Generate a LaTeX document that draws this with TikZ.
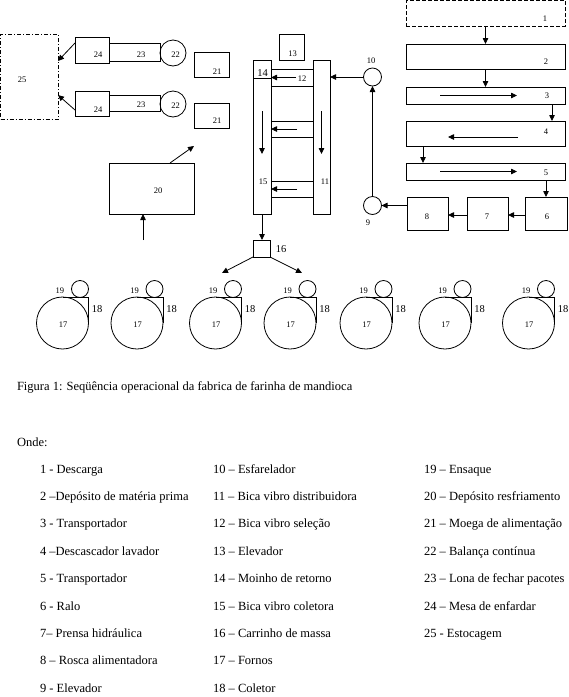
\documentclass[tikz,border=0pt]{standalone}
\usepackage{fontspec}
\setmainfont{Liberation Serif}
\usetikzlibrary{arrows.meta,calc}
\begin{document}
\begin{tikzpicture}[x=1pt,y=-1pt,
  every node/.style={inner sep=0pt, outer sep=0pt},
  box/.style={draw, line width=0.8pt, inner sep=0pt, outer sep=0pt},
  circ/.style={draw, circle, line width=0.8pt, inner sep=0pt, outer sep=0pt},
  arr/.style={line width=0.8pt, -{Triangle[length=6pt,width=5.5pt]}},
  ln/.style={line width=0.8pt},
  lbl/.style={font=\fontsize{8.5}{9}\selectfont},
  blbl/.style={font=\fontsize{10.5}{12}\selectfont},
  txt/.style={font=\fontsize{12.5}{14}\selectfont, anchor=base west}]
\useasboundingbox (0,0) rectangle (569,697);

% right chain
\node[box, dash pattern=on 4pt off 2pt, minimum width=159pt, minimum height=25.5pt] (b1) at (485.5,13.25) {};
\node[box, minimum width=159pt, minimum height=25pt] (b2) at (485.5,56.5) {};
\node[box, minimum width=159pt, minimum height=17pt] (b3) at (485.5,95.5) {};
\node[box, minimum width=159pt, minimum height=25pt] (b4) at (485.5,133.5) {};
\node[box, minimum width=159pt, minimum height=17pt] (b5) at (485.5,171.5) {};
\node[box, minimum width=42pt, minimum height=33pt] (b6) at (546,213.5) {};
\node[box, minimum width=41pt, minimum height=33pt] (b7) at (487.5,213.5) {};
\node[box, minimum width=41pt, minimum height=33pt] (b8) at (427.5,213.5) {};
\node[circ, minimum size=18pt] (c9) at (372.5,205.5) {};
\node[circ, minimum size=18pt] (c10) at (372.5,77) {};

\node[lbl] (t1) at (545,18.5) {1};
\node[lbl] (t2) at (546,62) {2};
\node[lbl] (t3) at (547,96) {3};
\node[lbl] (t4) at (546,132) {4};
\node[lbl] (t5) at (546,173) {5};
\node[lbl] (t6) at (547,217) {6};
\node[lbl] (t7) at (487,217) {7};
\node[lbl] (t8) at (427,217) {8};
\node[lbl] (t9) at (368,223) {9};
\node[lbl] (t10) at (371,61) {10};

\draw[arr] (b1.south) -- (b2.north);
\draw[arr] (b2.south) -- (b3.north);
\draw[arr] ([xshift=-13pt]b3.south east) -- ([xshift=-13pt]b3.south east |- b4.north);
\draw[arr] ([xshift=17pt]b4.south west) -- ([xshift=17pt]b4.south west |- b5.north);
\draw[arr] (b5.south -| b6.north) -- (b6.north);
\draw[arr] ([xshift=34pt]b3.west) -- ([xshift=111pt]b3.west);
\draw[arr] ([xshift=112pt,yshift=-3.5pt]b4.west) -- ([xshift=42pt,yshift=-3.5pt]b4.west);
\draw[arr] ([xshift=34pt]b5.west) -- ([xshift=111pt]b5.west);
\draw[arr] ([yshift=-1.5pt]b6.west) -- ([yshift=-1.5pt]b7.east);
\draw[arr] ([yshift=-1.5pt]b7.west) -- ([yshift=-1.5pt]b8.east);
\draw[arr] (b8.west |- c9.east) -- (c9.east);
\draw[arr] (c9.north) -- (c10.south);

% middle columns
\node[box, minimum width=18pt, minimum height=154pt] (col14) at (262,137) {};
\node[box, minimum width=17pt, minimum height=154pt] (col11) at (321.5,137) {};
\node[box, minimum width=42pt, minimum height=17pt] (ch1) at (292,77.5) {};
\node[box, minimum width=42pt, minimum height=16pt] (ch2) at (292,129) {};
\node[box, minimum width=42pt, minimum height=16pt] (ch3) at (292,189) {};
\node[box, minimum width=25pt, minimum height=26pt] (b13) at (291.5,47) {};
\coordinate (m14) at (262,78);
\draw[ln] (col14.west |- m14) -- (col14.east |- m14);
\draw[arr] (c10.west) -- (c10.west -| col11.east);
\draw[arr] ([xshift=4pt]ch1.center) -- (ch1.west);
\draw[arr] ([xshift=5pt]ch2.center) -- (ch2.west);
\draw[arr] ([xshift=5pt]ch3.center) -- (ch3.west);
\draw[arr] ([yshift=26pt]col14.center) -- ([yshift=-17pt]col14.center);
\draw[arr] ([yshift=26pt]col11.center) -- ([yshift=-17pt]col11.center);
\node[fill=white, inner sep=0.3pt, lbl] (t12) at (302,78.5) {12};
\node[lbl] (t13) at (292.5,53.5) {13};
\node[blbl] (t14) at (262.5,73) {14};
\node[lbl] (t15) at (263,182) {15};
\node[lbl] (t11) at (325,182) {11};

% carrinho 16
\node[box, minimum size=17pt] (b16) at (261.5,248.5) {};
\node[blbl] (t16) at (281,249) {16};
\draw[arr] (col14.south) -- (col14.south |- b16.north);
\coordinate (a16l) at (222,273);
\coordinate (a16r) at (302,273);
\draw[arr] (b16.south west) -- (a16l);
\draw[arr] (b16.south east) -- (a16r);

% furnaces
\foreach \cx [count=\i] in {62.5,137,215.5,290,366,445,528.5} {
  \node[circ, minimum size=52pt] (f\i) at (\cx,323) {};
  \node[circ, minimum size=17pt] (s\i) at (\cx+17.5,289) {};
  \draw[ln] (f\i.north) -- (f\i.north -| f\i.east) -- (f\i.east);
  \node[lbl] (f\i t) at (\cx+0.5,325) {17};
  \node[blbl] (f\i c) at (\cx+34.5,309) {18};
  \node[lbl] (f\i e) at (\cx-2.5,291) {19};
}

% left group
\node[box, dash pattern=on 4pt off 2pt on 1pt off 2pt, minimum width=57.5pt, minimum height=85pt] (b25) at (29.25,76.5) {};
\node[box, minimum width=34pt, minimum height=26pt] (b24a) at (92,50) {};
\node[box, minimum width=51pt, minimum height=18pt] (b23a) at (134.5,52) {};
\node[circ, minimum size=26pt] (c22a) at (173,53) {};
\node[box, minimum width=34pt, minimum height=25pt] (b24b) at (92,103.5) {};
\node[box, minimum width=51pt, minimum height=16pt] (b23b) at (134.5,103) {};
\node[circ, minimum size=26pt] (c22b) at (173,104) {};
\node[box, minimum width=35pt, minimum height=25pt] (b21a) at (211.5,64.5) {};
\node[box, minimum width=35pt, minimum height=25pt] (b21b) at (211.5,115.5) {};
\node[box, minimum width=85pt, minimum height=51pt] (b20) at (151.5,188.5) {};
\coordinate (a25t) at (58,61);
\coordinate (a25b) at (58,95);
\draw[arr] ([yshift=-6pt]b24a.north west) -- (a25t);
\draw[arr] ([yshift=6pt]b24b.south west) -- (a25b);
\coordinate (a20t) at (194,146);
\coordinate (a20b) at (143,240);
\draw[arr] ([xshift=18.5pt]b20.north) -- (a20t);
\draw[arr] (a20b) -- (a20b |- b20.south);
\node[lbl] (t25) at (22,80) {25};
\node[lbl] (t24a) at (98,55) {24};
\node[lbl] (t23a) at (141,55) {23};
\node[lbl] (t22a) at (175.5,55) {22};
\node[lbl] (t24b) at (98,110) {24};
\node[lbl] (t23b) at (141,104.5) {23};
\node[lbl] (t22b) at (175.5,105.5) {22};
\node[lbl] (t21a) at (217,72) {21};
\node[lbl] (t21b) at (217,121) {21};
\node[lbl] (t20) at (158,191) {20};

% caption and legend
\node[txt] (cap) at (17,390) {Figura 1: Seqüência operacional da fabrica de farinha de mandioca};
\node[txt] (onde) at (17,446) {Onde:};
\foreach \t [count=\i] in {{1 - Descarga},{2 –Depósito de matéria prima},{3 - Transportador},{4 –Descascador lavador},{5 - Transportador},{6 - Ralo},{7– Prensa hidráulica},{8 – Rosca alimentadora},{9 - Elevador}}
  \node[txt] (la\i) at (40,473+27.4*\i-27.4) {\t};
\foreach \t [count=\i] in {{10 – Esfarelador},{11 – Bica vibro distribuidora},{12 – Bica vibro seleção},{13 – Elevador},{14 – Moinho de retorno},{15 – Bica vibro coletora},{16 – Carrinho de massa},{17 – Fornos},{18 – Coletor}}
  \node[txt] (lb\i) at (213,473+27.4*\i-27.4) {\t};
\foreach \t [count=\i] in {{19 – Ensaque},{20 – Depósito resfriamento},{21 – Moega de alimentação},{22 – Balança contínua},{23 – Lona de fechar pacotes},{24 – Mesa de enfardar},{25 - Estocagem}}
  \node[txt] (lc\i) at (424,473+27.4*\i-27.4) {\t};
\end{tikzpicture}
\end{document}
